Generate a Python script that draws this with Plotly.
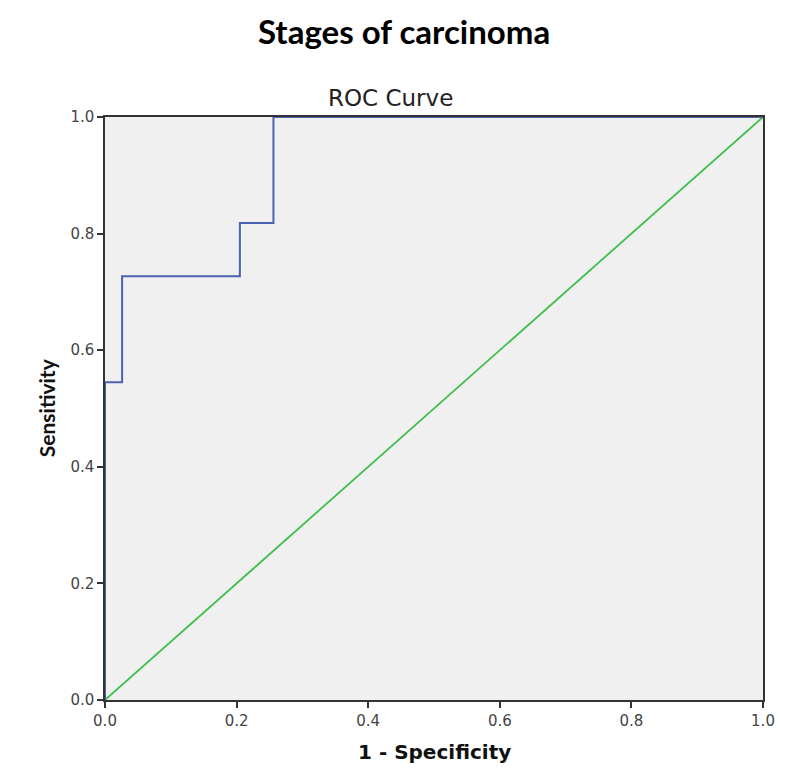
import plotly.graph_objects as go

# ROC curve data (step curve)
fpr = [0.0, 0.0, 0.026, 0.026, 0.205, 0.205, 0.256, 0.256, 1.0]
tpr = [0.0, 0.545, 0.545, 0.727, 0.727, 0.818, 0.818, 1.0, 1.0]
ref_x = [0.0, 1.0]
ref_y = [0.0, 1.0]
tick_vals = [0.0, 0.2, 0.4, 0.6, 0.8, 1.0]
tick_text = ["0.0", "0.2", "0.4", "0.6", "0.8", "1.0"]

fig = go.Figure()
fig.add_trace(go.Scatter(x=ref_x, y=ref_y, mode="lines",
                         line=dict(color="#3fbf4a", width=1.8), showlegend=False))
fig.add_trace(go.Scatter(x=fpr, y=tpr, mode="lines",
                         line=dict(color="#4a62b0", width=2), showlegend=False))

axis_common = dict(range=[0, 1], tickvals=tick_vals, ticktext=tick_text,
                   ticks="outside", ticklen=6, tickcolor="#333", tickwidth=1.5,
                   showline=True, linecolor="#333", linewidth=1.5, mirror=True,
                   showgrid=False, zeroline=False, automargin=False,
                   tickfont=dict(family="DejaVu Sans", size=15, color="#444"))

PLOT_H = 583.0
PLOT_W = 658.0

fig.update_layout(
    width=785, height=760,
    paper_bgcolor="white", plot_bgcolor="#f0f0f0",
    margin=dict(l=97, r=30, t=109, b=68),
    xaxis=dict(**axis_common),
    yaxis=dict(**axis_common),
    annotations=[
        dict(text="<b>Stages of carcinoma</b>", xref="paper", yref="paper",
             x=(395.5 - 97) / PLOT_W, y=(692 - 23) / PLOT_H,
             xanchor="center", yanchor="middle",
             showarrow=False, font=dict(family="Lato", size=33, color="black")),
        dict(text="ROC Curve", xref="paper", yref="paper",
             x=(382 - 97) / PLOT_W, y=(692 - 90) / PLOT_H,
             xanchor="center", yanchor="middle",
             showarrow=False, font=dict(family="DejaVu Sans", size=23, color="#222")),
        dict(text="<b>1 - Specificity</b>", xref="paper", yref="paper",
             x=0.5, y=(692 - 744) / PLOT_H, xanchor="center", yanchor="middle",
             showarrow=False, font=dict(family="DejaVu Sans", size=20, color="#111")),
        dict(text="<b>Sensitivity</b>", xref="paper", yref="paper",
             x=(38.7 - 97) / PLOT_W, y=(692 - 399.5) / PLOT_H,
             xanchor="center", yanchor="middle", textangle=-90,
             showarrow=False, font=dict(family="Lato", size=21, color="#111")),
    ],
)

fig.write_html("out.html")
